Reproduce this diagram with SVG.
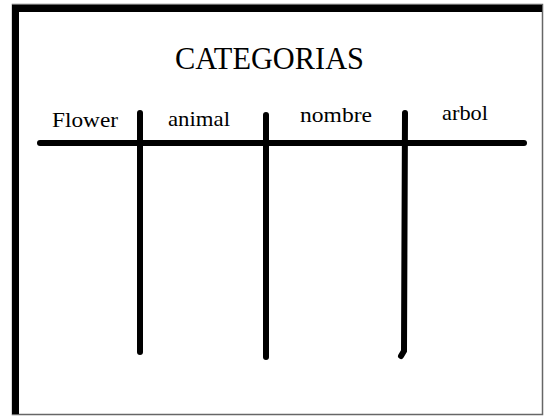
<svg xmlns="http://www.w3.org/2000/svg" width="545" height="416" viewBox="0 0 545 416">
<style>
.t{font-family:"Liberation Serif","Times New Roman",serif;fill:#000}
.lbl{font-size:21px}
.ln{stroke:#000;stroke-width:6;stroke-linecap:round;fill:none}
</style>
<rect x="0" y="0" width="545" height="416" fill="#fff"/>
<g id="frame">
<rect x="12.5" y="4.5" width="530" height="410" fill="#fff" stroke="#666" stroke-width="1.5"/>
<rect x="12" y="5" width="7" height="409" fill="#000"/>
<rect x="12" y="5" width="530" height="7" fill="#000"/>
</g>
<g id="title"><text class="t" x="175" y="69" font-size="31" textLength="189" lengthAdjust="spacingAndGlyphs">CATEGORIAS</text></g>
<g id="connectors">
<path class="ln" d="M40 143 L524 143"/>
<path class="ln" d="M140 113 L140 352"/>
<path class="ln" d="M266 115 L266 357"/>
<path class="ln" d="M405 113 L404 351 L401 356"/>
</g>
<g id="flower"><text class="t lbl" x="52" y="127" textLength="66" lengthAdjust="spacingAndGlyphs">Flower</text></g>
<g id="animal"><text class="t lbl" x="168" y="126" textLength="62" lengthAdjust="spacingAndGlyphs">animal</text></g>
<g id="nombre"><text class="t lbl" x="300" y="122" textLength="72" lengthAdjust="spacingAndGlyphs">nombre</text></g>
<g id="arbol"><text class="t lbl" x="442" y="120" textLength="46" lengthAdjust="spacingAndGlyphs">arbol</text></g>
</svg>
